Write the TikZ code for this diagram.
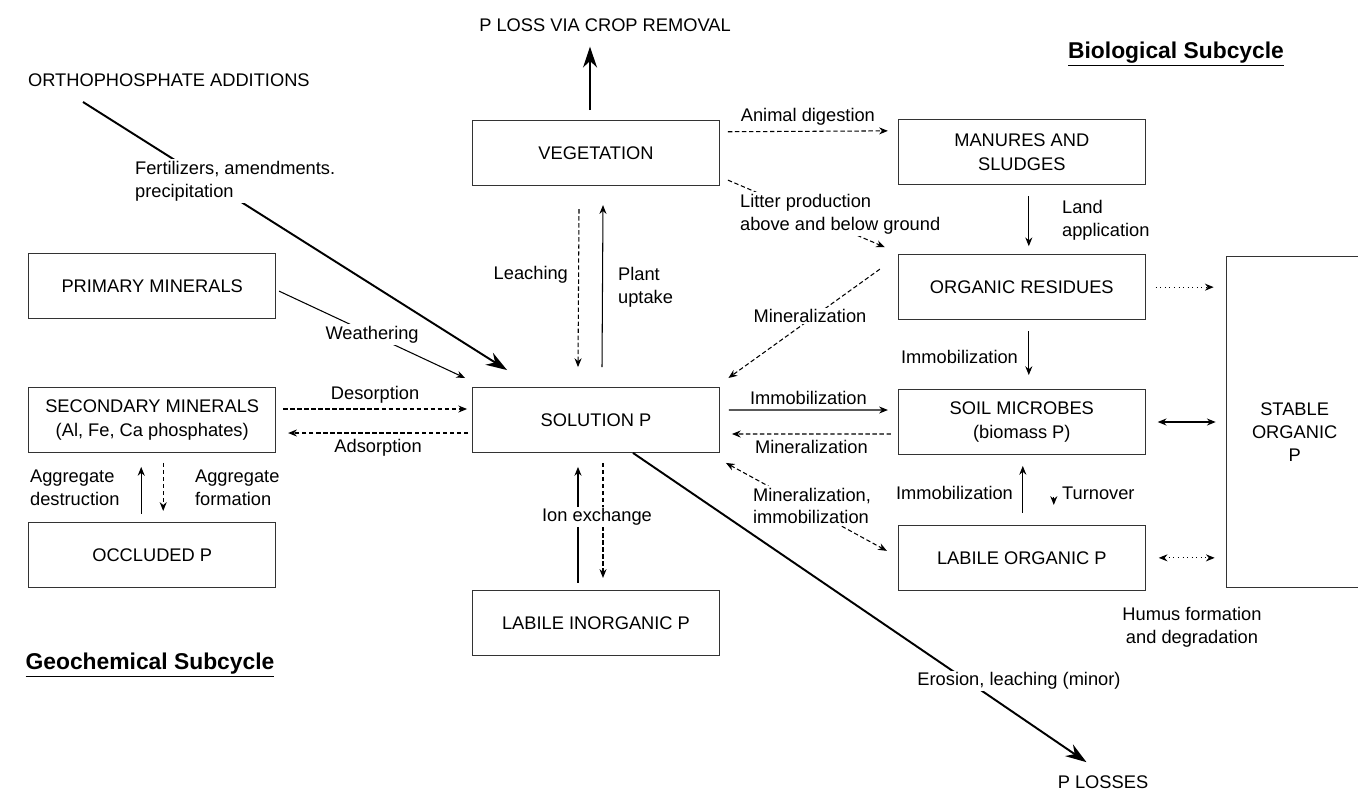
\documentclass[tikz,border=0pt]{standalone}
\usepackage{fontspec}
\setmainfont{Liberation Sans}
\usepackage{tikz}
\usetikzlibrary{positioning, arrows.meta}

\begin{document}
\begin{tikzpicture}[x=0.02cm, y=-0.02cm, >={Stealth[length=5pt, width=4pt]},
	box/.style={draw=black!80, line width=.5pt, minimum width=4.94cm, minimum height=1.3cm, inner sep=1pt, align=center, font=\fontsize{10.4}{13.3}\selectfont},
	lbl/.style={inner sep=1pt, font=\fontsize{10.4}{13}\selectfont},
	wlbl/.style={lbl, fill=white},
	flow/.style={->, line width=.6pt},
	dflow/.style={flow, dash pattern=on 2.5pt off 1.5pt},
	oflow/.style={flow, dotted},
	bigflow/.style={-{Stealth[length=12pt, width=8pt]}, line width=1.1pt},
	title/.style={inner sep=1pt, font=\bfseries\fontsize{13}{15}\selectfont}]
					\useasboundingbox (0,0) rectangle (1358,795);
					
					\node[box] (sol) at (596,420) {SOLUTION P};
					\node[box, above=4.02cm of sol] (veg) {VEGETATION};
					\node[box, below=2.74cm of sol] (labin) {LABILE INORGANIC P};
					\node[box, left=3.92cm of sol] (sec) {SECONDARY MINERALS\\(Al, Fe, Ca phosphates)};
					\node[box, above=1.36cm of sec] (pri) {PRIMARY MINERALS};
					\node[box, below=1.38cm of sec] (occ) {OCCLUDED P};
					\node[box, right=3.56cm of sol, yshift=-.04cm] (mic) {SOIL MICROBES\\(biomass P)};
					\node[box, above=1.38cm of mic] (res) {ORGANIC RESIDUES};
					\node[box, above=1.38cm of res] (man) {MANURES AND\\SLUDGES};
					\node[box, below=1.4cm of mic] (lorg) {LABILE ORGANIC P};
					\node[box, right=1.6cm of mic, minimum width=2.74cm, minimum height=6.62cm] (stab) {};
					\node[lbl, align=center, font=\fontsize{10.4}{13.3}\selectfont] (stabtxt) at ([yshift=-.2cm]stab.center) {STABLE\\ORGANIC\\P};
					
					\node[lbl] (crop) at (605,25) {P LOSS VIA CROP REMOVAL};
					\node[lbl, anchor=west] (ortho) at (26,80) {ORTHOPHOSPHATE ADDITIONS};
					\node[title] (bio) at (1176,54) {\underline{Biological Subcycle}};
					\node[title] (geo) at (150,665) {\underline{Geochemical Subcycle}};
					\node[lbl] (plosses) at (1103,782) {P LOSSES};
					\node[lbl, align=center] (humus) at (1192,627) {Humus formation\\and degradation};
					\coordinate (orthotail) at (83,102);
					
					\draw[bigflow, shorten <=.2cm, shorten >=.26cm] ([xshift=-.12cm]veg.north) -- ([xshift=-.12cm]veg.north |- crop.south);
					\draw[bigflow] (orthotail) -- ([shift={(35,-17)}]sol.north west);
					\node[wlbl, anchor=west, align=left] (fert) at (133,181) {Fertilizers, amendments.\\precipitation};
					\draw[flow] ([shift={(3,5)}]pri.east) -- ([shift={(-7,-42)}]sol.west) node[wlbl, midway] {Weathering};
					\draw[dflow] ([shift={(7,-11)}]sec.east) -- ([shift={(-5,-11)}]sol.west) node[lbl, midway, above=2pt] {Desorption};
					\draw[dflow] ([shift={(-4,13)}]sol.west) -- ([shift={(12,13)}]sec.east) node[lbl, midway, below=2pt] {Adsorption};
					\draw[flow] ([shift={(-11,-8)}]occ.north) -- ([shift={(-11,14)}]sec.south);
					\draw[dflow] ([shift={(11,10)}]sec.south) -- ([shift={(11,-11)}]occ.north);
					\node[lbl, anchor=west, align=left] (aggd) at (28,488) {Aggregate\\destruction};
					\node[lbl, anchor=west, align=left] (aggf) at (193,488) {Aggregate\\formation};
					
					\draw[dflow] ([shift={(-17,23)}]veg.south) -- ([shift={(-18,-20)}]sol.north);
					\draw[flow] ([shift={(6,-20)}]sol.north) -- ([shift={(7,19)}]veg.south);
					\node[lbl, anchor=east] (leach) at (570,275) {Leaching};
					\node[lbl, anchor=west, align=left] (uptake) at (616,287) {Plant\\uptake};
					\draw[flow] ([shift={(-18,-7)}]labin.north) -- ([shift={(-18,14)}]sol.south);
					\draw[dflow] ([shift={(7,10)}]sol.south) -- ([shift={(7,-12)}]labin.north);
					\node[wlbl] (ion) at (597,517) {Ion exchange};
					
					\draw[dflow] ([shift={(8,11.5)}]veg.north east) -- ([shift={(-10,11.5)}]man.north west) node[lbl, midway, above=2pt] {Animal digestion};
					\draw[dflow] ([shift={(8,-6)}]veg.south east) -- ([shift={(-13,-7)}]res.north west);
					\node[wlbl, anchor=west, align=left] (litter) at (738,214) {Litter production\\above and below ground};
					\draw[flow] ([shift={(7,11)}]man.south) -- ([shift={(7,-8)}]res.north);
					\node[lbl, anchor=west, align=left] (land) at (1060,220) {Land\\application};
					\draw[dflow] ([shift={(-18,-18)}]res.west) -- ([shift={(8.5,-42)}]sol.east);
					\node[wlbl] (minr) at (810,316) {Mineralization};
					\draw[flow] ([shift={(7,11)}]res.south) -- ([shift={(7,-14)}]mic.north);
					\node[lbl, anchor=east] (immr) at (1020,357) {Immobilization};
					
					\draw[flow] ([shift={(9,-10)}]sol.east) -- ([shift={(-10,-12)}]mic.west) node[lbl, midway, above=2pt] {Immobilization};
					\draw[dflow] ([shift={(-7,12)}]mic.west) -- ([shift={(12,14)}]sol.east) node[lbl, midway, below=2pt] {Mineralization};
					\draw[dflow, <->] ([shift={(6,10)}]sol.south east) -- ([shift={(-11,-7)}]lorg.west);
					\node[wlbl, anchor=west, align=left] (minimm) at (751,506) {Mineralization,\\immobilization};
					\draw[flow] ([shift={(1,-12)}]lorg.north) -- ([shift={(1,11)}]mic.south);
					\node[lbl, anchor=east] (imml) at (1015,493) {Immobilization};
					\draw[flow] ([shift={(32,42)}]mic.south) -- ([shift={(32,-20)}]lorg.north);
					\node[lbl, anchor=west] (turn) at (1060,493) {Turnover};
					
					\draw[oflow] ([xshift=.2cm]res.east) -- ([xshift=-.24cm]stab.west |- res.east);
					\draw[flow, <->] ([xshift=.24cm]mic.east) -- ([xshift=-.2cm]stab.west);
					\draw[oflow, <->] ([xshift=.26cm]lorg.east) -- ([xshift=-.22cm]stab.west |- lorg.east);
					
					\draw[bigflow, shorten >=.4cm] ([xshift=.74cm]sol.south) -- (plosses.north);
					\node[wlbl] (erosion) at (1019,681) {Erosion, leaching (minor)};
				\end{tikzpicture}
\end{document}
